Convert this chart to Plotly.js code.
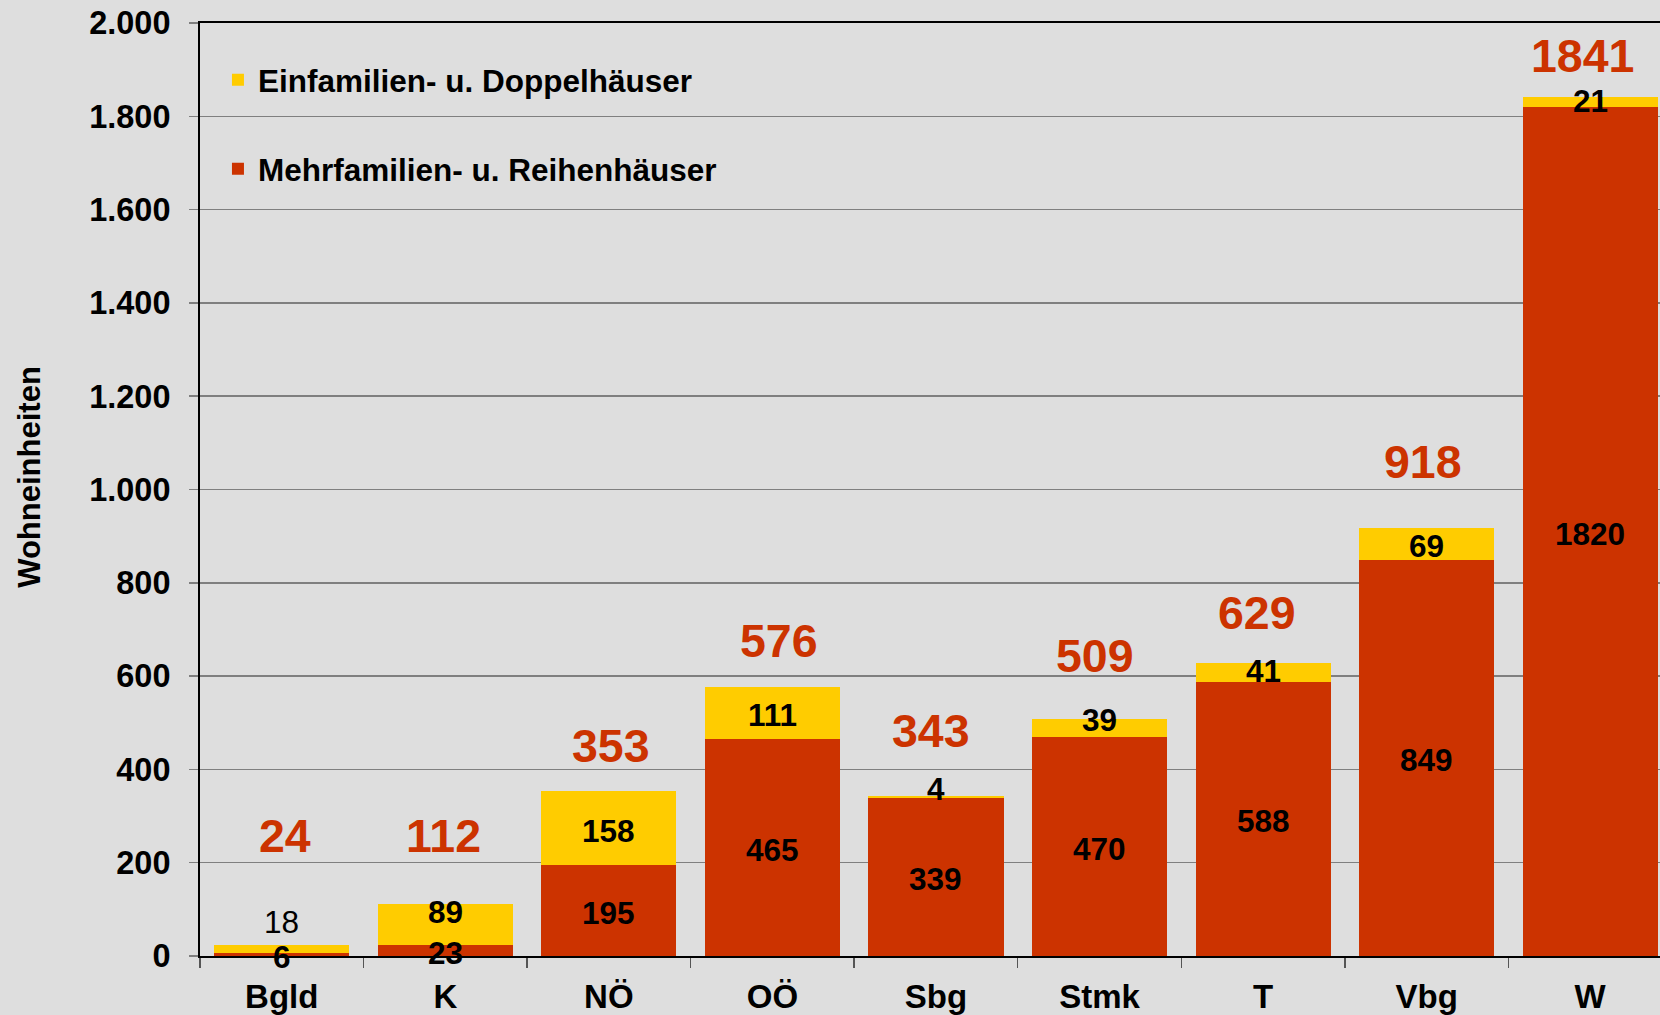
<!DOCTYPE html>
<html>
<head>
<meta charset="utf-8">
<script src="https://cdn.plot.ly/plotly-3.0.1.min.js"></script>
<style>
html,body{margin:0;padding:0;background:#DEDEDE;}
#chart{width:1660px;height:1015px;}
</style>
</head>
<body>
<div id="chart"></div>
<script>
// ---- data ----
const categories   = ['Bgld','K','NÖ','OÖ','Sbg','Stmk','T','Vbg','W'];
const mehrfamilien = [6, 23, 195, 465, 339, 470, 588, 849, 1820];
const einfamilien  = [18, 89, 158, 111, 4, 39, 41, 69, 21];
const totals       = [24, 112, 353, 576, 343, 509, 629, 918, 1841];
const yTickVals    = [0, 200, 400, 600, 800, 1000, 1200, 1400, 1600, 1800, 2000];

// ---- styling / label nudges (pixels, not data) ----
const einLabelShift   = [30, 15, 0, 1, 10, 10, 4, 0, 4];
const totalLabelShift = [109, 68, 45, 46, 65, 63, 50, 66, 41];
const totalLabelXShift = [3, -2, 2, 7, -5, -5, -6, -4, -8];
const einLabelWeight  = ['normal','bold','bold','bold','bold','bold','bold','bold','bold'];

const FONT = 'Liberation Sans, Arial, Helvetica, sans-serif';
const RED = '#CC3300', YELLOW = '#FFCC00', BG = '#DEDEDE';

const traces = [
  {
    type: 'bar', name: 'Mehrfamilien- u. Reihenhäuser',
    x: categories, y: mehrfamilien,
    marker: {color: RED, line: {width: 0}},
    legendgroup: 'm', legendrank: 2, hoverinfo: 'skip'
  },
  {
    type: 'bar', name: 'Einfamilien- u. Doppelhäuser',
    x: categories, y: einfamilien,
    marker: {color: YELLOW, line: {width: 0}},
    legendgroup: 'e', legendrank: 1, hoverinfo: 'skip'
  }
];

const annotations = [];
categories.forEach((c, i) => {
  annotations.push({
    x: c, y: mehrfamilien[i] / 2, xref: 'x', yref: 'y',
    text: String(mehrfamilien[i]), showarrow: false,
    xanchor: 'center', yanchor: 'middle', yshift: -2.5,
    font: {family: FONT, size: 31.5, color: '#000', weight: 'bold'}
  });
  annotations.push({
    x: c, y: mehrfamilien[i] + einfamilien[i] / 2, xref: 'x', yref: 'y',
    text: String(einfamilien[i]), showarrow: false,
    xanchor: 'center', yanchor: 'middle', yshift: einLabelShift[i] - 2.5,
    font: {family: FONT, size: 31.5, color: '#000', weight: einLabelWeight[i]}
  });
  annotations.push({
    x: c, y: totals[i], xref: 'x', yref: 'y',
    text: String(totals[i]), showarrow: false,
    xanchor: 'center', yanchor: 'middle',
    yshift: totalLabelShift[i], xshift: totalLabelXShift[i],
    font: {family: FONT, size: 46.5, color: RED, weight: 'bold'}
  });
});
annotations.push({
  xref: 'paper', yref: 'paper', x: -0.1164, y: 0.5137,
  text: 'Wohneinheiten', showarrow: false, textangle: -90,
  xanchor: 'center', yanchor: 'middle',
  font: {family: FONT, size: 31, color: '#000', weight: 'bold'}
});

const layout = {
  width: 1660, height: 1015,
  margin: {l: 200, r: 0, t: 23, b: 59, pad: 0},
  paper_bgcolor: BG, plot_bgcolor: BG,
  separators: ',.',
  barmode: 'stack', bargap: 0.174,
  showlegend: true,
  legend: {
    x: 0.0123, y: 0.968, xanchor: 'left', yanchor: 'top',
    bgcolor: 'rgba(0,0,0,0)', borderwidth: 0,
    traceorder: 'grouped', tracegroupgap: 45,
    font: {family: FONT, size: 31.5, color: '#000', weight: 'bold'}
  },
  xaxis: {
    type: 'category',
    range: [-0.5, 8.427],
    showline: true, linecolor: '#000', linewidth: 2, mirror: true,
    ticks: 'outside', tickson: 'boundaries', ticklen: 10, tickwidth: 1.5, tickcolor: '#555',
    showgrid: false, zeroline: false,
    tickfont: {family: FONT, size: 33, color: '#000', weight: 'bold'},
    ticklabelstandoff: 10,
    fixedrange: true
  },
  yaxis: {
    range: [0, 2000],
    tickvals: yTickVals, tickformat: ',d',
    showline: true, linecolor: '#000', linewidth: 2, mirror: false,
    ticks: 'outside', ticklen: 9, tickwidth: 1.5, tickcolor: '#7f7f7f',
    showgrid: true, gridcolor: '#7f7f7f', gridwidth: 1.5,
    zeroline: false,
    tickfont: {family: FONT, size: 32.5, color: '#000', weight: 'bold'},
    ticklabelstandoff: 12,
    fixedrange: true
  },
  annotations: annotations
};

Plotly.newPlot('chart', traces, layout, {displayModeBar: false, staticPlot: true});
</script>
</body>
</html>
